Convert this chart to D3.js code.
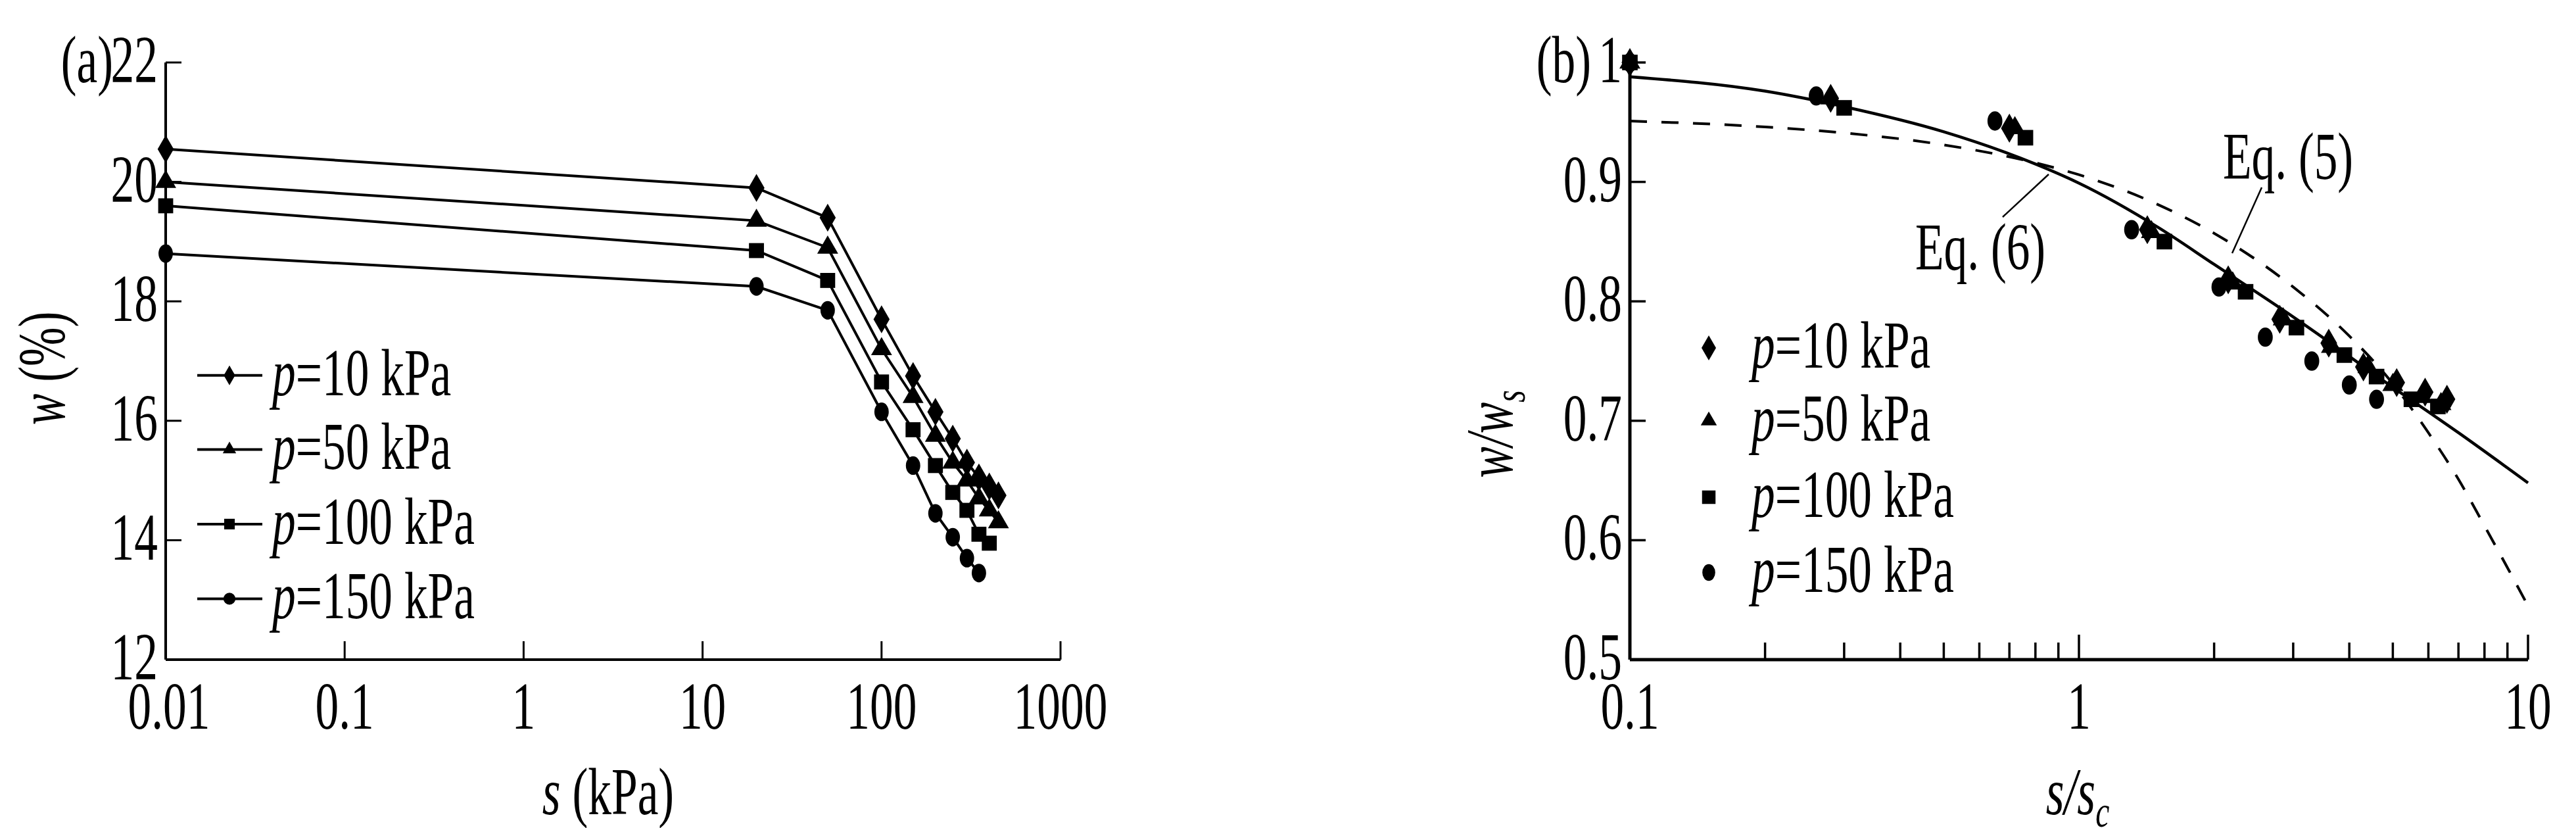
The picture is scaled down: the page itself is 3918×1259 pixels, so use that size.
<!DOCTYPE html>
<meta charset="utf-8">
<script src="https://d3js.org/d3.v7.min.js"></script>
<style>
  body { margin:0; background:#fff; }
  text { font-family:"Liberation Serif","Times New Roman","DejaVu Serif",serif; fill:#000; }
</style>
<body>
<svg id="chart" width="3918" height="1259"></svg>
</body>
<script>
// ---- data, panel (a)
var sKpa = [0.01, 20, 50, 100, 150, 200, 250, 300, 350, 400, 450]
var wP10  = [20.55, 19.9, 19.4, 17.7, 16.75, 16.15, 15.7, 15.3, 15.05, 14.9, 14.75]
var wP50  = [20.0, 19.35, 18.9, 17.2, 16.4, 15.75, 15.3, 15.0, 14.7, 14.5, 14.3]
var wP100 = [19.6, 18.85, 18.35, 16.65, 15.85, 15.25, 14.8, 14.5, 14.1, 13.95]
var wP150 = [18.8, 18.25, 17.85, 16.15, 15.25, 14.45, 14.05, 13.7, 13.45]
var ticksA = [0.01, 0.1, 1, 10, 100, 1000]
var ticksAy = [12, 14, 16, 18, 20, 22]
var legendNames = ["10", "50", "100", "150"]

// ---- data, panel (b)
var rP10  = [[0.1,1.0],[0.28,0.97],[0.70,0.945],[1.42,0.86],[2.15,0.818],[2.8,0.785],[3.6,0.765],[4.3,0.745],[5.1,0.732],[5.9,0.724],[6.6,0.718]]
var rP50  = [[0.1,1.0],[0.28,0.97],[0.72,0.945],[1.45,0.858],[2.2,0.815],[2.85,0.785],[3.65,0.762],[4.4,0.745],[5.0,0.73],[5.8,0.72],[6.4,0.714]]
var rP100 = [[0.1,1.0],[0.30,0.962],[0.76,0.937],[1.55,0.85],[2.35,0.808],[3.05,0.778],[3.9,0.755],[4.6,0.737],[5.5,0.718],[6.3,0.712]]
var rP150 = [[0.1,1.0],[0.26,0.972],[0.65,0.951],[1.31,0.86],[2.05,0.812],[2.6,0.77],[3.3,0.75],[4.0,0.73],[4.6,0.718]]
var eq6 = [[0.1,0.988],[0.2,0.976],[0.3,0.963],[0.5,0.942],[0.8,0.915],[1,0.899],[1.5,0.862],[2,0.831],[3,0.787],[5,0.728],[7,0.69],[10,0.648]]
var eq5 = [[0.1,0.951],[0.2,0.946],[0.3,0.941],[0.5,0.931],[0.8,0.916],[1,0.906],[1.5,0.881],[2,0.857],[3,0.812],[4,0.771],[5,0.731],[6,0.69],[7,0.651],[8,0.612],[9,0.577],[10,0.545]]
var ticksBy = [0.5, 0.6, 0.7, 0.8, 0.9, 1]
var ticksBx = [0.1, 1, 10]

var svg = d3.select("#chart")
var SX = 0.85, SY = 1.2, FS = 84

function txt(x, y, parts, anchor, rot) {
  var t = svg.append("text")
    .attr("transform", "translate(" + x + "," + y + ")" + (rot ? " rotate(-90)" : "") + " scale(" + SX + "," + SY + ")")
    .attr("text-anchor", anchor || "start")
    .style("font-size", FS + "px")
  parts.forEach(function(p) {
    var s = t.append("tspan").text(p[0])
    if (p[1] == "i") s.style("font-style", "italic")
    if (p[1] == "sub") s.style("font-style", "italic").style("font-size", "56px").attr("dy", 16)
  })
  return t
}

var symbols = [d3.symbolDiamond, d3.symbolTriangle, d3.symbolSquare, d3.symbolCircle]

// ================= panel (a)
var xa = d3.scaleLog().domain([0.01, 1000]).range([252, 1613])
var ya = d3.scaleLinear().domain([12, 22]).range([1003, 95])

var ga = svg.append("g")
ga.append("line").attr("x1", xa(0.01)).attr("x2", xa(1000)).attr("y1", ya(12)).attr("y2", ya(12)).attr("stroke", "#000").attr("stroke-width", 4)
ga.append("line").attr("x1", xa(0.01)).attr("x2", xa(0.01)).attr("y1", ya(12)).attr("y2", ya(22)).attr("stroke", "#000").attr("stroke-width", 4)
ga.selectAll(".tx").data(ticksA.slice(1)).enter().append("line")
  .attr("x1", d => xa(d)).attr("x2", d => xa(d)).attr("y1", ya(12)).attr("y2", ya(12) - 28)
  .attr("stroke", "#000").attr("stroke-width", 3)
ga.selectAll(".ty").data(ticksAy.slice(1)).enter().append("line")
  .attr("x1", xa(0.01)).attr("x2", xa(0.01) + 24).attr("y1", d => ya(d)).attr("y2", d => ya(d))
  .attr("stroke", "#000").attr("stroke-width", 3)
ticksA.forEach(function(d) { txt(xa(d) + (d == 0.01 ? 5 : 0), 1108, [[String(d)]], "middle") })
ticksAy.forEach(function(d) { txt(xa(0.01) - 12, ya(d) + 30, [[String(d)]], "end") })
txt(172, ya(22) + 30, [["(a)"]], "end")
txt(98, 560, [["w", "i"], [" (%)"]], "middle", true)
txt(925, 1238, [["s", "i"], [" (kPa)"]], "middle")

var seriesA = [wP10, wP50, wP100, wP150]
var lineA = d3.line().x(d => xa(d[0])).y(d => ya(d[1]))
seriesA.forEach(function(vals, i) {
  var pts = vals.map((v, j) => [sKpa[j], v])
  ga.append("path").attr("d", lineA(pts)).attr("fill", "none").attr("stroke", "#000").attr("stroke-width", 4)
  ga.selectAll(".m" + i).data(pts).enter().append("path")
    .attr("transform", d => "translate(" + xa(d[0]) + "," + ya(d[1]) + ")" + (i == 3 ? " scale(0.85,1.1)" : ""))
    .attr("d", d3.symbol().type(symbols[i]).size(i == 1 ? 440 : 520))
})
// legend (a)
var legYa = [16.76, 15.52, 14.27, 13.02]
legendNames.forEach(function(n, i) {
  var y = ya(legYa[i])
  ga.append("line").attr("x1", 300).attr("x2", 399).attr("y1", y).attr("y2", y).attr("stroke", "#000").attr("stroke-width", 4)
  ga.append("path").attr("transform", "translate(349," + y + ")").attr("d", d3.symbol().type(symbols[i]).size(i == 1 ? 180 : 260))
  txt(414, y + 30, [["p", "i"], ["=" + n + " kPa"]], "start")
})

// ================= panel (b)
var xb = d3.scaleLog().domain([0.1, 10]).range([2479, 3845])
var yb = d3.scaleLinear().domain([0.5, 1]).range([1003, 95])

var gb = svg.append("g")
gb.append("line").attr("x1", xb(0.1)).attr("x2", xb(10)).attr("y1", yb(0.5)).attr("y2", yb(0.5)).attr("stroke", "#000").attr("stroke-width", 5)
gb.append("line").attr("x1", xb(0.1)).attr("x2", xb(0.1)).attr("y1", yb(0.5)).attr("y2", yb(1)).attr("stroke", "#000").attr("stroke-width", 5)
var minorB = xb.ticks().filter(d => d > 0.1)
gb.selectAll(".tx").data(minorB).enter().append("line")
  .attr("x1", d => xb(d)).attr("x2", d => xb(d)).attr("y1", yb(0.5))
  .attr("y2", d => yb(0.5) - (ticksBx.indexOf(d) >= 0 ? 38 : 26))
  .attr("stroke", "#000").attr("stroke-width", 3.5)
gb.selectAll(".ty").data(ticksBy.slice(1)).enter().append("line")
  .attr("x1", xb(0.1)).attr("x2", xb(0.1) + 24).attr("y1", d => yb(d)).attr("y2", d => yb(d))
  .attr("stroke", "#000").attr("stroke-width", 3.5)
ticksBx.forEach(function(d) { txt(xb(d), 1108, [[String(d)]], "middle") })
ticksBy.forEach(function(d) { txt(xb(0.1) - 12, yb(d) + 30, [[String(d)]], "end") })
txt(2420, yb(1) + 30, [["(b)"]], "end")
txt(2300, 660, [["w/w", "i"], ["s", "sub"]], "middle", true)
txt(3160, 1238, [["s/s", "i"], ["c", "sub"]], "middle")

var lineB = d3.line().x(d => xb(d[0])).y(d => yb(d[1])).curve(d3.curveMonotoneX)
gb.append("path").attr("d", lineB(eq5)).attr("fill", "none").attr("stroke", "#000").attr("stroke-width", 4).attr("stroke-dasharray", "26,22")
gb.append("path").attr("d", lineB(eq6)).attr("fill", "none").attr("stroke", "#000").attr("stroke-width", 4.5)

var seriesB = [rP10, rP50, rP100, rP150]
seriesB.forEach(function(pts, i) {
  gb.selectAll(".b" + i).data(pts).enter().append("path")
    .attr("transform", d => "translate(" + xb(d[0]) + "," + yb(d[1]) + ")" + (i == 3 ? " scale(0.85,1.1)" : ""))
    .attr("d", d3.symbol().type(symbols[i]).size(i == 1 ? 440 : 560))
})
// annotations
gb.append("line").attr("x1", 3116).attr("y1", 265).attr("x2", 3046).attr("y2", 330).attr("stroke", "#000").attr("stroke-width", 2.5)
txt(3012, 410, [["Eq. (6)"]], "middle")
gb.append("line").attr("x1", 3440).attr("y1", 285).attr("x2", 3395).attr("y2", 385).attr("stroke", "#000").attr("stroke-width", 2.5)
txt(3480, 272, [["Eq. (5)"]], "middle")
// legend (b)
var legYb = [0.761, 0.70, 0.636, 0.573]
legendNames.forEach(function(n, i) {
  var y = yb(legYb[i])
  gb.append("path").attr("transform", "translate(2599," + y + ")" + (i == 3 ? " scale(0.85,1.1)" : "")).attr("d", d3.symbol().type(symbols[i]).size(i == 1 ? 260 : 420))
  txt(2664, y + 30, [["p", "i"], ["=" + n + " kPa"]], "start")
})
</script>
